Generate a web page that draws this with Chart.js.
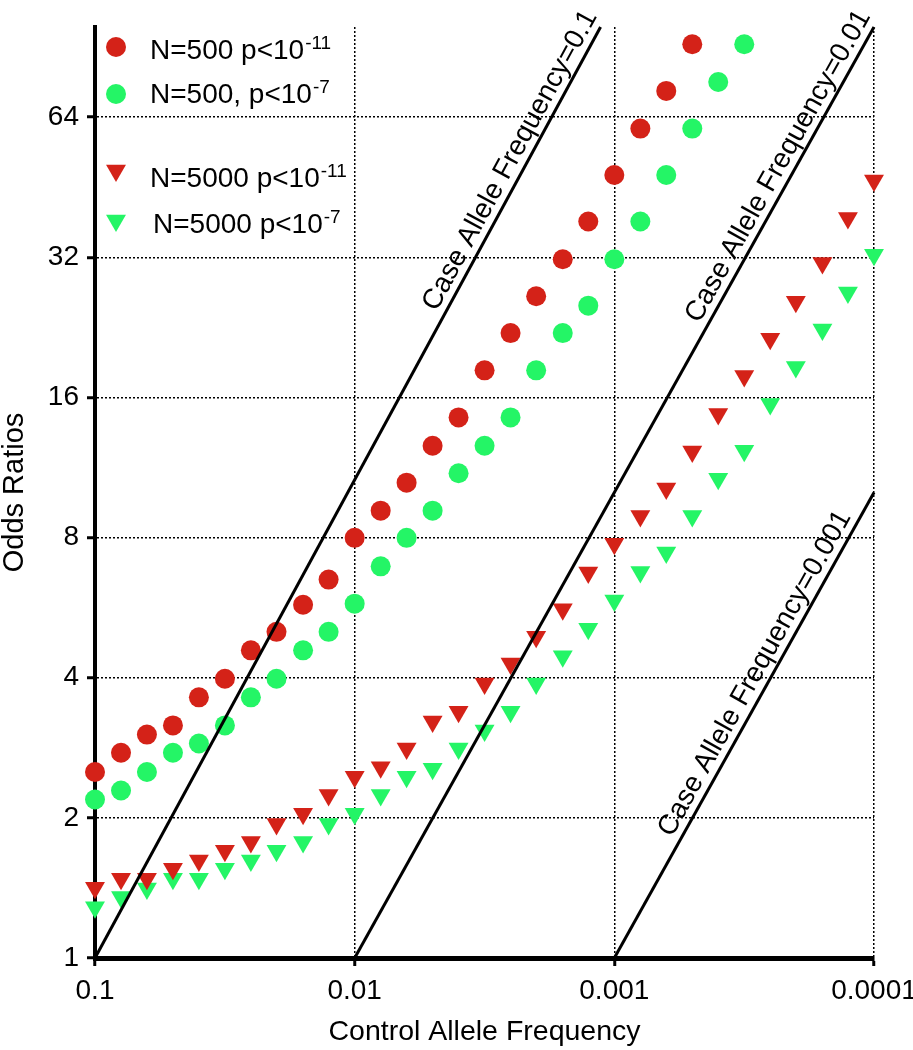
<!DOCTYPE html>
<html>
<head>
<meta charset="utf-8">
<script src="https://cdn.jsdelivr.net/npm/chart.js@4.4.1/dist/chart.umd.min.js"></script>
<style>
  html, body { margin: 0; padding: 0; background: #fff; }
</style>
</head>
<body>
<canvas id="myChart" width="913" height="1050"></canvas>
<script>
// control allele frequencies (x), 10 steps per decade
var controlFreq = [0.1, 0.0794, 0.0631, 0.0501, 0.0398, 0.0316, 0.0251, 0.02, 0.0158, 0.0126,
    0.01, 0.00794, 0.00631, 0.00501, 0.00398, 0.00316, 0.00251, 0.002, 0.00158, 0.00126,
    0.001, 0.000794, 0.000631, 0.000501, 0.000398, 0.000316, 0.000251, 0.0002, 0.000158, 0.000126,
    0.0001];

// odds ratios
var or500p11 = [2.51, 2.76, 3.02, 3.16, 3.63, 3.98, 4.58, 5.02, 5.74, 6.50, 7.99, 9.14, 10.5, 12.6,
    14.5, 18.3, 22.0, 26.4, 31.7, 38.2, 48.1, 60.5, 72.9, 91.8];
var or500p7 = [2.19, 2.29, 2.51, 2.76, 2.89, 3.16, 3.63, 3.98, 4.58, 5.02, 5.77, 6.94, 7.99, 9.14,
    11.0, 12.6, 14.5, 18.3, 22.0, 25.2, 31.7, 38.2, 48.1, 60.5, 76.2, 91.8];
var or5000p11 = [1.415, 1.48, 1.48, 1.555, 1.62, 1.70, 1.775, 1.94, 2.04, 2.24, 2.45, 2.57, 2.82,
    3.22, 3.38, 3.89, 4.29, 4.90, 5.61, 6.73, 7.76, 8.90, 10.2, 12.25, 14.75, 17.8, 21.4, 25.7,
    31.1, 38.9, 46.8];
var or5000p7 = [1.286, 1.352, 1.41, 1.48, 1.48, 1.555, 1.62, 1.70, 1.775, 1.94, 2.04, 2.24, 2.45,
    2.55, 2.82, 3.08, 3.38, 3.89, 4.45, 5.10, 5.86, 6.75, 7.43, 8.90, 10.7, 12.3, 15.5, 18.6,
    22.4, 26.9, 32.4];

// case allele frequency reference lines (control freq, odds ratio)
var caseLine01 = [[0.1, 1], [0.00113, 100]];
var caseLine001 = [[0.01, 1], [0.0001, 100]];
var caseLine0001 = [[0.001, 1], [0.0001, 10]];
var caseLabels = ['Case Allele Frequency=0.1', 'Case Allele Frequency=0.01', 'Case Allele Frequency=0.001'];

var seriesLabels = ['N=500 p<10', 'N=500, p<10', 'N=5000 p<10', 'N=5000 p<10'];
var seriesExps = ['-11', '-7', '-11', '-7'];

var xTicks = [0.1, 0.01, 0.001, 0.0001];
var yTicks = [1, 2, 4, 8, 16, 32, 64];

var RED = 'rgb(212,34,24)';
var GREEN = 'rgb(36,245,102)';
var FONT = '"Liberation Sans", Arial, Helvetica, sans-serif';

function toPoints(ys) {
    return ys.map(function(y, i) { return {x: controlFreq[i], y: y}; });
}
function toLine(arr) {
    return arr.map(function(p) { return {x: p[0], y: p[1]}; });
}

function lineSet(arr) {
    return {
        type: 'line', data: toLine(arr), borderColor: '#000', borderWidth: 3,
        pointRadius: 0, fill: false, order: 0, clip: false
    };
}

var overlay = {
    id: 'overlay',
    afterDatasetsDraw: function(chart) {
        var ctx = chart.ctx, xs = chart.scales.x, ys = chart.scales.y;
        ctx.save();
        ctx.fillStyle = '#000';

        // labels along the diagonal lines
        var lines = [caseLine01, caseLine001, caseLine0001];
        var along = [8, 8, -32];
        ctx.font = '28px ' + FONT;
        ctx.textAlign = 'right';
        ctx.textBaseline = 'alphabetic';
        lines.forEach(function(l, i) {
            var x0 = xs.getPixelForValue(l[0][0]), y0 = ys.getPixelForValue(l[0][1]);
            var x1 = xs.getPixelForValue(l[1][0]), y1 = ys.getPixelForValue(l[1][1]);
            var a = Math.atan2(y1 - y0, x1 - x0);
            ctx.save();
            ctx.translate(x1 + Math.cos(a) * along[i], y1 + Math.sin(a) * along[i]);
            ctx.rotate(a);
            ctx.fillText(caseLabels[i], 0, -8);
            ctx.restore();
        });

        // legend
        var markY = [47, 94, 170.4, 220.4];
        var textY = [59.3, 103.3, 186.7, 233.3];
        var textX = [150, 150, 150, 153];
        var cols = [RED, GREEN, RED, GREEN];
        ctx.textAlign = 'left';
        for (var i = 0; i < 4; i++) {
            ctx.fillStyle = cols[i];
            ctx.beginPath();
            if (i < 2) {
                ctx.arc(116, markY[i], 10, 0, Math.PI * 2);
            } else {
                var r = 11.5;
                ctx.moveTo(116, markY[i] + r);
                ctx.lineTo(116 - r * 0.866, markY[i] - r / 2);
                ctx.lineTo(116 + r * 0.866, markY[i] - r / 2);
                ctx.closePath();
            }
            ctx.fill();
            ctx.fillStyle = '#000';
            ctx.font = '28px ' + FONT;
            ctx.fillText(seriesLabels[i], textX[i], textY[i]);
            var w = ctx.measureText(seriesLabels[i]).width;
            ctx.font = '19px ' + FONT;
            ctx.fillText(seriesExps[i], textX[i] + w + 1, textY[i] - 10);
        }
        ctx.restore();
    }
};

var pointDefaults = {borderWidth: 0, order: 1, clip: false, showLine: false};

var config = {
    type: 'scatter',
    data: {
        datasets: [
            lineSet(caseLine01),
            lineSet(caseLine001),
            lineSet(caseLine0001),
            Object.assign({label: 'N=500 p<10-11', data: toPoints(or500p11), backgroundColor: RED,
                pointStyle: 'circle', pointRadius: 10}, pointDefaults),
            Object.assign({label: 'N=500, p<10-7', data: toPoints(or500p7), backgroundColor: GREEN,
                pointStyle: 'circle', pointRadius: 10}, pointDefaults),
            Object.assign({label: 'N=5000 p<10-11', data: toPoints(or5000p11), backgroundColor: RED,
                pointStyle: 'triangle', rotation: 180, pointRadius: 11.5}, pointDefaults),
            Object.assign({label: 'N=5000 p<10-7', data: toPoints(or5000p7), backgroundColor: GREEN,
                pointStyle: 'triangle', rotation: 180, pointRadius: 11.5}, pointDefaults)
        ]
    },
    options: {
        responsive: false,
        animation: false,
        layout: {padding: {top: 27, right: 39, left: 0, bottom: 0}},
        plugins: {legend: {display: false}, tooltip: {enabled: false}},
        scales: {
            x: {
                type: 'logarithmic',
                reverse: true,
                min: 0.0001,
                max: 0.1,
                afterBuildTicks: function(scale) {
                    scale.ticks = xTicks.map(function(v) { return {value: v}; });
                },
                afterFit: function(scale) {
                    scale.height = 92;
                    scale.paddingLeft = 0;
                    scale.paddingRight = 0;
                },
                ticks: {
                    color: '#000', font: {family: FONT, size: 28}, padding: 8,
                    maxRotation: 0, autoSkip: false,
                    callback: function(v) { return String(v); }
                },
                grid: {color: '#000', lineWidth: 1.5, tickLength: 8, tickWidth: 3, tickColor: '#000'},
                border: {display: true, color: '#000', width: 5, dash: [2, 2]},
                title: {
                    display: true, text: 'Control Allele Frequency', color: '#000',
                    font: {family: FONT, size: 28.5, lineHeight: 1}, padding: {top: 0, bottom: 4}
                }
            },
            y: {
                type: 'logarithmic',
                min: 1,
                max: 100,
                afterBuildTicks: function(scale) {
                    scale.ticks = yTicks.map(function(v) { return {value: v}; });
                },
                afterFit: function(scale) {
                    scale.width = 95;
                    scale.paddingTop = 0;
                    scale.paddingBottom = 0;
                },
                ticks: {
                    color: '#000', font: {family: FONT, size: 28}, padding: 8,
                    callback: function(v) { return String(v); }
                },
                grid: {color: '#000', lineWidth: 1.5, tickLength: 8, tickWidth: 3, tickColor: '#000'},
                border: {display: true, color: '#000', width: 4, dash: [2, 2]},
                title: {
                    display: true, text: 'Odds Ratios', color: '#000',
                    font: {family: FONT, size: 29, lineHeight: 1}, padding: 0
                }
            }
        }
    },
    plugins: [overlay]
};

var ctx = document.getElementById('myChart').getContext('2d');
window.myChart = new Chart(ctx, config);
</script>
</body>
</html>
